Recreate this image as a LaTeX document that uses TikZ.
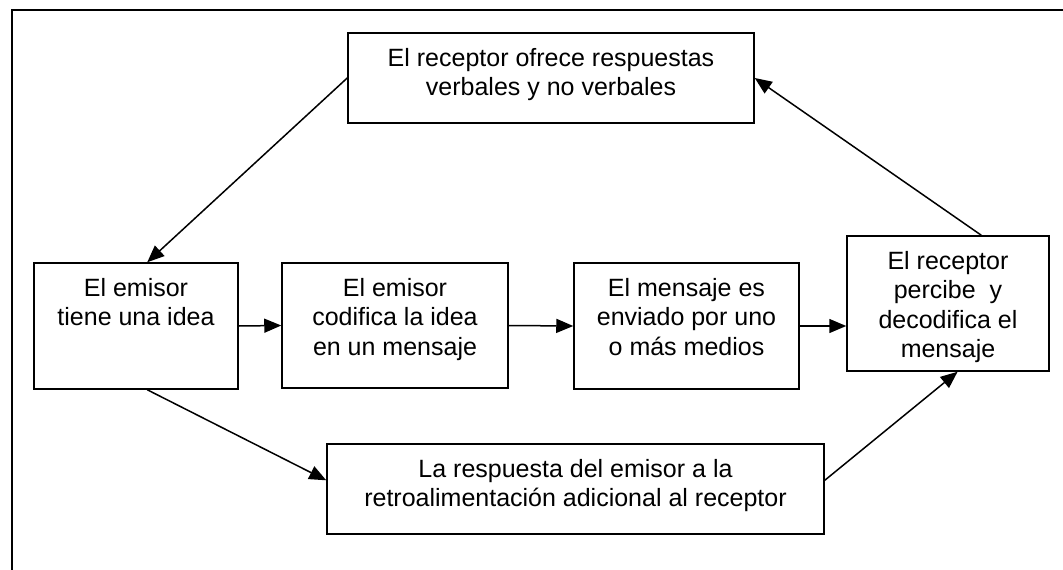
\documentclass[tikz,border=0pt]{standalone}
\usepackage{fontspec}
\setmainfont{Liberation Sans}
\usetikzlibrary{arrows.meta,positioning}
% caja de texto: ancho, alto, texto arriba
\newcommand{\caja}[3]{\parbox[c][#2pt][t]{#1pt}{\centering\rule{0pt}{33pt}#3}}

\begin{document}
\begin{tikzpicture}[x=1pt,y=-1pt,
  font=\fontsize{25}{29.5}\selectfont,
  line width=1.5pt,
  every node/.style={draw,inner sep=0pt},
  flecha/.style={-{Triangle[length=17pt,width=14pt]}}]
\useasboundingbox (0,0) rectangle (1063,570);
\draw (12,10) rectangle (1090,600);
%\draw[help lines] (0,0) grid (1063,570);
\node (ofrece) at (551,78) {\caja{406}{90}{El receptor ofrece respuestas\\verbales y no verbales}};
\node (idea) at (136,326) {\caja{204}{126}{El emisor\\tiene una idea}};
\node (codifica) at (395,325.5) {\caja{226}{125}{El emisor\\codifica la idea\\en un mensaje}};
\node (medio) at (686.5,326) {\caja{225}{126}{El mensaje es\\enviado por uno\\o más medios}};
\node (percibe) at (948,303.5) {\caja{202}{135}{El receptor\\percibe\ \ y\\decodifica el\\mensaje}};
\node (adicional) at (575.5,489) {\caja{497}{90}{La respuesta del emisor a la\\retroalimentación adicional al receptor}};
\draw[flecha] (ofrece.west) -- (idea.80);
\draw[flecha] (idea.east) -- (codifica.west);
\draw[flecha] (codifica.east) -- (medio.west);
\draw[flecha] (medio.east) -- (medio.east -| percibe.west);
\draw[flecha] (percibe.64) -- (ofrece.east);
\draw[flecha] (idea.-80) -- (adicional.178);
\draw[flecha] (adicional.2) -- (percibe.-82);
\end{tikzpicture}
\end{document}
